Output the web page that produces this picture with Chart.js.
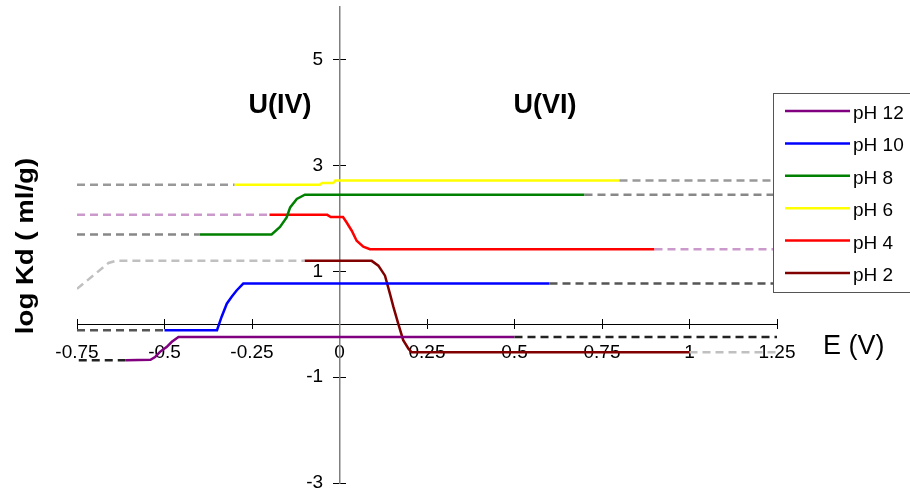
<!DOCTYPE html>
<html>
<head>
<meta charset="utf-8">
<script src="https://cdn.jsdelivr.net/npm/chart.js@4.4.1/dist/chart.umd.min.js"></script>
<style>
  html, body { margin: 0; padding: 0; background: #fff; }
  #wrap { width: 910px; height: 499px; }
</style>
</head>
<body>
<div id="wrap"><canvas id="kdChart"></canvas></div>
<script>
const FONT = "'Liberation Sans', Arial, sans-serif";

const phLabels = ["pH 12", "pH 10", "pH 8", "pH 6", "pH 4", "pH 2"];
const phColors = ["#800080", "#0000ff", "#008000", "#ffff00", "#ff0000", "#800000"];
const yTickValues = [-3, -1, 1, 3, 5];

// measured curves: potential E (V) against log Kd (ml/g)
const ph12E = [-0.61, -0.54, -0.527, -0.513, -0.494, -0.479, -0.46, 0.5];
const ph12Kd = [-0.68, -0.67, -0.62, -0.52, -0.43, -0.33, -0.24, -0.24];
const ph10E = [-0.5, -0.35, -0.337, -0.322, -0.308, -0.294, -0.275, 0.6];
const ph10Kd = [-0.11, -0.11, 0.14, 0.39, 0.52, 0.64, 0.77, 0.77];
const ph8E = [-0.4, -0.194, -0.17, -0.151, -0.141, -0.122, -0.099, 0.7];
const ph8Kd = [1.7, 1.7, 1.84, 2.02, 2.21, 2.37, 2.45, 2.45];
const ph6E = [-0.3, -0.056, -0.05, -0.018, -0.012, 0.8];
const ph6Kd = [2.64, 2.64, 2.67, 2.67, 2.72, 2.72];
const ph4E = [-0.2, -0.035, -0.025, 0.01, 0.02, 0.035, 0.049, 0.068, 0.087, 0.9];
const ph4Kd = [2.07, 2.07, 2.03, 2.03, 1.93, 1.77, 1.58, 1.47, 1.42, 1.42];
const ph2E = [-0.1, 0.092, 0.111, 0.13, 0.144, 0.154, 0.168, 0.182, 0.197, 0.206, 1.0];
const ph2Kd = [1.2, 1.2, 1.11, 0.92, 0.58, 0.33, 0.01, -0.3, -0.46, -0.53, -0.53];

// extrapolated plateaus on both sides of each curve
const extE = [
  { left: [-0.745, -0.61], right: [0.5, 1.25], color: "#222222" },
  { left: [-0.75, -0.5], right: [0.6, 1.25], color: "#555555" },
  { left: [-0.75, -0.4], right: [0.7, 1.25], color: "#888888" },
  { left: [-0.75, -0.3], right: [0.8, 1.25], color: "#999999" },
  { left: [-0.75, -0.2], right: [0.9, 1.25], color: "#cc99cc" },
  { left: [-0.75, -0.66, -0.64, -0.1], right: [1.0, 1.25], color: "#c0c0c0" },
];
const extKd = [
  { left: [-0.68, -0.68], right: [-0.24, -0.24] },
  { left: [-0.11, -0.11], right: [0.77, 0.77] },
  { left: [1.7, 1.7], right: [2.45, 2.45] },
  { left: [2.64, 2.64], right: [2.72, 2.72] },
  { left: [2.07, 2.07], right: [1.42, 1.42] },
  { left: [0.67, 1.16, 1.2, 1.2], right: [-0.53, -0.53] },
];

const curveE = [ph12E, ph10E, ph8E, ph6E, ph4E, ph2E];
const curveKd = [ph12Kd, ph10Kd, ph8Kd, ph6Kd, ph4Kd, ph2Kd];

const toPoints = (xs, ys) => xs.map((x, i) => ({ x, y: ys[i] }));

const datasets = [];
extE.forEach((ext, i) => {
  ["left", "right"].forEach((side) => {
    datasets.push({
      label: "",
      data: toPoints(ext[side], extKd[i][side]),
      borderColor: ext.color,
      borderWidth: 2.5,
      borderDash: [8, 5],
      showLine: true,
      pointRadius: 0,
    });
  });
});
phLabels.forEach((label, i) => {
  datasets.push({
    label,
    data: toPoints(curveE[i], curveKd[i]),
    borderColor: phColors[i],
    borderWidth: 2.5,
    showLine: true,
    pointRadius: 0,
    isCurve: true,
  });
});

const fixedYTicks = (scale) => {
  scale.ticks = yTickValues.map((value) => ({ value }));
};
const noVerticalPadding = (scale) => {
  scale.paddingTop = 0;
  scale.paddingBottom = 0;
};
const yRange = { type: "linear", axis: "y", min: -3, max: 6, afterBuildTicks: fixedYTicks, afterFit: noVerticalPadding };
const xRange = { type: "linear", axis: "x", position: { y: 0 }, min: -0.75, max: 1.25 };

// titles, region labels and the framed legend
const annotations = {
  id: "annotations",
  afterDraw(chart) {
    const { ctx, scales } = chart;
    ctx.save();
    ctx.fillStyle = "#000";
    ctx.textBaseline = "alphabetic";

    ctx.font = `bold 27px ${FONT}`;
    ctx.textAlign = "center";
    ctx.fillText("U(IV)", scales.x.getPixelForValue(-0.17), scales.y.getPixelForValue(4.0));
    ctx.fillText("U(VI)", scales.x.getPixelForValue(0.587), scales.y.getPixelForValue(4.0));

    ctx.font = `27px ${FONT}`;
    ctx.textAlign = "left";
    ctx.fillText("E (V)", 823, 354);

    ctx.save();
    ctx.translate(33, 246);
    ctx.rotate(-Math.PI / 2);
    ctx.scale(1.2, 1);
    ctx.font = `bold 23px ${FONT}`;
    ctx.textAlign = "center";
    ctx.fillText("log Kd ( ml/g)", 0, 0);
    ctx.restore();

    // legend frame
    ctx.fillStyle = "#fff";
    ctx.fillRect(773.5, 93.5, 150, 199);
    ctx.strokeStyle = "#555";
    ctx.lineWidth = 1;
    ctx.strokeRect(773.5, 93.5, 150, 199);

    const curves = chart.data.datasets.filter((ds) => ds.isCurve);
    ctx.font = `19px ${FONT}`;
    ctx.textAlign = "left";
    curves.forEach((ds, i) => {
      const y = 111 + i * 32.4;
      ctx.strokeStyle = ds.borderColor;
      ctx.lineWidth = 2.5;
      ctx.beginPath();
      ctx.moveTo(785, y);
      ctx.lineTo(850, y);
      ctx.stroke();
      ctx.fillStyle = "#000";
      ctx.fillText(ds.label, 853, y + 8);
    });
    ctx.restore();
  },
};

new Chart(document.getElementById("kdChart"), {
  type: "scatter",
  data: { datasets },
  options: {
    responsive: true,
    maintainAspectRatio: false,
    animation: false,
    layout: { padding: { left: 77, right: 133, top: 7, bottom: 16 } },
    plugins: { legend: { display: false }, tooltip: { enabled: false } },
    elements: { line: { tension: 0 } },
    scales: {
      x: {
        ...xRange,
        ticks: {
          stepSize: 0.25,
          color: "#000",
          font: { family: FONT, size: 19 },
          padding: 13,
          maxRotation: 0,
          autoSkip: false,
          callback: (value) => String(+value.toFixed(2)),
        },
        grid: { drawOnChartArea: false, tickLength: 4, color: "#000" },
        border: { color: "#000" },
      },
      xUp: {
        ...xRange,
        ticks: { stepSize: 0.25, display: false },
        grid: { drawOnChartArea: false, tickLength: -5, color: "#000" },
        border: { display: false },
      },
      // tick labels sit a little left of the vertical axis
      y: {
        ...yRange,
        position: { x: -0.047 },
        ticks: { color: "#000", font: { family: FONT, size: 19 } },
        grid: { display: false },
        border: { display: false },
      },
      yAxis: {
        ...yRange,
        position: { x: 0 },
        ticks: { display: false },
        grid: { drawOnChartArea: false, tickLength: 6, color: "#000" },
        border: { color: "#808080", width: 1.5 },
      },
      yRight: {
        ...yRange,
        position: { x: 0 },
        ticks: { display: false },
        grid: { drawOnChartArea: false, tickLength: -6, color: "#000" },
        border: { display: false },
      },
    },
  },
  plugins: [annotations],
});
</script>
</body>
</html>
